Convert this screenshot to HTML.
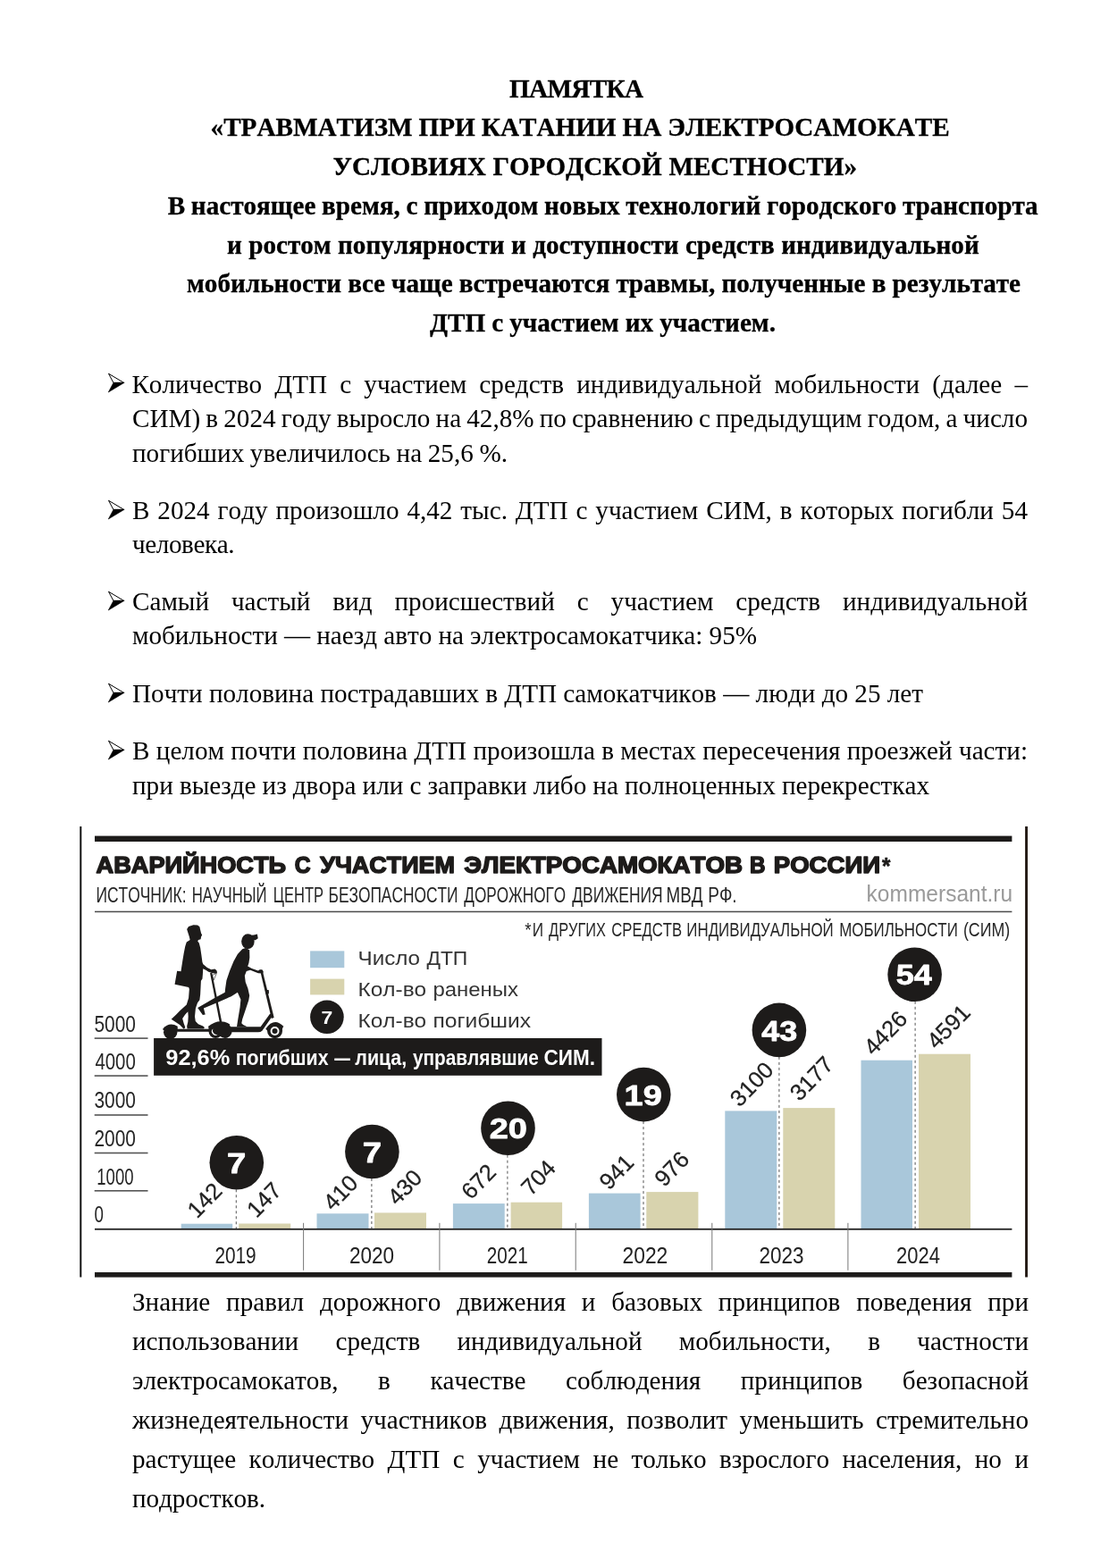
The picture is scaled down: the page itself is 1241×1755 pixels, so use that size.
<!DOCTYPE html>
<html lang="ru"><head><meta charset="utf-8"><title>Памятка</title>
<style>
html,body{margin:0;padding:0;background:#fff;}
body{width:1241px;height:1755px;position:relative;overflow:hidden;font-family:"Liberation Serif",serif;color:#000;}
.l{position:absolute;white-space:nowrap;font-size:29.17px;line-height:50px;height:50px;font-kerning:none;}
.b{font-weight:bold;-webkit-text-stroke:0.3px #000;}
.bul{position:absolute;}
#chart{position:absolute;left:0;top:0;}
#chart text{font-kerning:none;}
</style></head><body>
<div class="l b" style="left:570px;top:74.16px;letter-spacing:-0.659px;">ПАМЯТКА</div>
<div class="l b" style="left:235.6px;top:116.66px;word-spacing:-0.268px;">«ТРАВМАТИЗМ ПРИ КАТАНИИ НА ЭЛЕКТРОСАМОКАТЕ</div>
<div class="l b" style="left:372.6px;top:161.46px;word-spacing:0.403px;">УСЛОВИЯХ ГОРОДСКОЙ МЕСТНОСТИ»</div>
<div class="l b" style="left:187.7px;top:204.66px;word-spacing:-0.586px;">В настоящее время, с приходом новых технологий городского транспорта</div>
<div class="l b" style="left:254px;top:249.36px;word-spacing:0.085px;">и ростом популярности и доступности средств индивидуальной</div>
<div class="l b" style="left:209px;top:292.16px;word-spacing:-0.096px;">мобильности все чаще встречаются травмы, полученные в результате</div>
<div class="l b" style="left:481px;top:336.16px;word-spacing:-0.219px;">ДТП с участием их участием.</div>
<div class="l" style="left:147.4px;top:404.56px;word-spacing:6.862px;">Количество ДТП с участием средств индивидуальной мобильности (далее –</div>
<div class="l" style="left:148px;top:443.16px;word-spacing:-1.129px;">СИМ) в 2024 году выросло на 42,8% по сравнению с предыдущим годом, а число</div>
<div class="l" style="left:148px;top:482.16px;word-spacing:-0.648px;">погибших увеличилось на 25,6 %.</div>
<div class="l" style="left:148px;top:546.16px;word-spacing:1.629px;">В 2024 году произошло 4,42 тыс. ДТП с участием СИМ, в которых погибли 54</div>
<div class="l" style="left:148px;top:584.16px;letter-spacing:-0.418px;">человека.</div>
<div class="l" style="left:148px;top:648.16px;word-spacing:17.623px;">Самый частый вид происшествий с участием средств индивидуальной</div>
<div class="l" style="left:148px;top:686.16px;word-spacing:-0.138px;">мобильности — наезд авто на электросамокатчика: 95%</div>
<div class="l" style="left:148px;top:750.96px;word-spacing:-0.011px;">Почти половина пострадавших в ДТП самокатчиков — люди до 25 лет</div>
<div class="l" style="left:148px;top:814.96px;word-spacing:0.055px;">В целом почти половина ДТП произошла в местах пересечения проезжей части:</div>
<div class="l" style="left:148px;top:853.66px;word-spacing:-0.195px;">при выезде из двора или с заправки либо на полноценных перекрестках</div>
<div class="l" style="left:148px;top:1432.16px;word-spacing:10.498px;">Знание правил дорожного движения и базовых принципов поведения при</div>
<div class="l" style="left:148px;top:1476.16px;word-spacing:34.006px;">использовании средств индивидуальной мобильности, в частности</div>
<div class="l" style="left:148px;top:1520.16px;word-spacing:37.291px;">электросамокатов, в качестве соблюдения принципов безопасной</div>
<div class="l" style="left:148px;top:1564.16px;word-spacing:6.181px;">жизнедеятельности участников движения, позволит уменьшить стремительно</div>
<div class="l" style="left:148px;top:1608.16px;word-spacing:7.180px;">растущее количество ДТП с участием не только взрослого населения, но и</div>
<div class="l" style="left:148px;top:1652.16px;letter-spacing:-0.066px;">подростков.</div>
<svg class="bul" style="left:119px;top:416px" width="24" height="26" viewBox="0 0 24 26"><path d="M2.5 2.2 L19.8 12.5 L8 12.5 Z" fill="#fff" stroke="#000" stroke-width="1" stroke-linejoin="miter"/><path d="M8 12.2 L20.2 12.2 L2.3 23 Z" fill="#000" stroke="#000" stroke-width="0.6"/></svg>
<svg class="bul" style="left:119px;top:558px" width="24" height="26" viewBox="0 0 24 26"><path d="M2.5 2.2 L19.8 12.5 L8 12.5 Z" fill="#fff" stroke="#000" stroke-width="1" stroke-linejoin="miter"/><path d="M8 12.2 L20.2 12.2 L2.3 23 Z" fill="#000" stroke="#000" stroke-width="0.6"/></svg>
<svg class="bul" style="left:119px;top:660.2px" width="24" height="26" viewBox="0 0 24 26"><path d="M2.5 2.2 L19.8 12.5 L8 12.5 Z" fill="#fff" stroke="#000" stroke-width="1" stroke-linejoin="miter"/><path d="M8 12.2 L20.2 12.2 L2.3 23 Z" fill="#000" stroke="#000" stroke-width="0.6"/></svg>
<svg class="bul" style="left:119px;top:763px" width="24" height="26" viewBox="0 0 24 26"><path d="M2.5 2.2 L19.8 12.5 L8 12.5 Z" fill="#fff" stroke="#000" stroke-width="1" stroke-linejoin="miter"/><path d="M8 12.2 L20.2 12.2 L2.3 23 Z" fill="#000" stroke="#000" stroke-width="0.6"/></svg>
<svg class="bul" style="left:119px;top:826.8px" width="24" height="26" viewBox="0 0 24 26"><path d="M2.5 2.2 L19.8 12.5 L8 12.5 Z" fill="#fff" stroke="#000" stroke-width="1" stroke-linejoin="miter"/><path d="M8 12.2 L20.2 12.2 L2.3 23 Z" fill="#000" stroke="#000" stroke-width="0.6"/></svg>
<svg id="chart" width="1241" height="1755" viewBox="0 0 1241 1755" font-family="'Liberation Sans', sans-serif">
<rect x="89.3" y="925" width="2" height="504.5" fill="#111"/>
<rect x="1147.1" y="925" width="2.9" height="504.5" fill="#241a15"/>
<rect x="106" y="935.6" width="1026.4" height="6.4" fill="#1d1b1a"/>
<rect x="106" y="1424" width="1026.4" height="5.6" fill="#1d1b1a"/>
<rect x="106" y="1019.7" width="1026.4" height="1.5" fill="#4a4a4a"/>
<text x="107.60" y="977.30" font-size="25.8" font-weight="bold" fill="#1d1b1a" textLength="212.40" lengthAdjust="spacingAndGlyphs" stroke="#1d1b1a" stroke-width="1.5" stroke-linejoin="round">АВАРИЙНОСТЬ</text>
<text x="329.80" y="977.30" font-size="25.8" font-weight="bold" fill="#1d1b1a" textLength="17.82" lengthAdjust="spacingAndGlyphs" stroke="#1d1b1a" stroke-width="1.5" stroke-linejoin="round">С</text>
<text x="358.19" y="977.30" font-size="25.8" font-weight="bold" fill="#1d1b1a" textLength="150.80" lengthAdjust="spacingAndGlyphs" stroke="#1d1b1a" stroke-width="1.5" stroke-linejoin="round">УЧАСТИЕМ</text>
<text x="519.30" y="977.30" font-size="25.8" font-weight="bold" fill="#1d1b1a" textLength="311.80" lengthAdjust="spacingAndGlyphs" stroke="#1d1b1a" stroke-width="1.5" stroke-linejoin="round">ЭЛЕКТРОСАМОКАТОВ</text>
<text x="838.89" y="977.30" font-size="25.8" font-weight="bold" fill="#1d1b1a" textLength="17.50" lengthAdjust="spacingAndGlyphs" stroke="#1d1b1a" stroke-width="1.5" stroke-linejoin="round">В</text>
<text x="865.80" y="977.30" font-size="25.8" font-weight="bold" fill="#1d1b1a" textLength="119.24" lengthAdjust="spacingAndGlyphs" stroke="#1d1b1a" stroke-width="1.5" stroke-linejoin="round">РОССИИ</text>
<text x="987.00" y="977.60" font-size="26" font-weight="bold" fill="#1d1b1a" textLength="9.41" lengthAdjust="spacingAndGlyphs" stroke="#1d1b1a" stroke-width="0.6" stroke-linejoin="round">*</text>
<text x="107.40" y="1009.60" font-size="23.2" font-weight="normal" fill="#262626" textLength="101.09" lengthAdjust="spacingAndGlyphs">ИСТОЧНИК:</text>
<text x="214.70" y="1009.60" font-size="23.2" font-weight="normal" fill="#262626" textLength="83.87" lengthAdjust="spacingAndGlyphs">НАУЧНЫЙ</text>
<text x="305.80" y="1009.60" font-size="23.2" font-weight="normal" fill="#262626" textLength="56.25" lengthAdjust="spacingAndGlyphs">ЦЕНТР</text>
<text x="367.50" y="1009.60" font-size="23.2" font-weight="normal" fill="#262626" textLength="145.05" lengthAdjust="spacingAndGlyphs">БЕЗОПАСНОСТИ</text>
<text x="519.30" y="1009.60" font-size="23.2" font-weight="normal" fill="#262626" textLength="113.81" lengthAdjust="spacingAndGlyphs">ДОРОЖНОГО</text>
<text x="640.20" y="1009.60" font-size="23.2" font-weight="normal" fill="#262626" textLength="101.41" lengthAdjust="spacingAndGlyphs">ДВИЖЕНИЯ</text>
<text x="745.52" y="1009.60" font-size="23.2" font-weight="normal" fill="#262626" textLength="40.91" lengthAdjust="spacingAndGlyphs">МВД</text>
<text x="792.30" y="1009.60" font-size="23.2" font-weight="normal" fill="#262626" textLength="32.35" lengthAdjust="spacingAndGlyphs">РФ.</text>
<text x="969.60" y="1009.40" font-size="26.7" font-weight="normal" fill="#9a9a9a" textLength="163.49" lengthAdjust="spacingAndGlyphs">kommersant.ru</text>
<text x="587.26" y="1047.60" font-size="21.3" font-weight="normal" fill="#262626" textLength="7.31" lengthAdjust="spacingAndGlyphs">*</text>
<text x="595.73" y="1047.60" font-size="21.3" font-weight="normal" fill="#262626" textLength="12.30" lengthAdjust="spacingAndGlyphs">И</text>
<text x="614.10" y="1047.60" font-size="21.3" font-weight="normal" fill="#262626" textLength="63.80" lengthAdjust="spacingAndGlyphs">ДРУГИХ</text>
<text x="684.29" y="1047.60" font-size="21.3" font-weight="normal" fill="#262626" textLength="78.85" lengthAdjust="spacingAndGlyphs">СРЕДСТВ</text>
<text x="768.30" y="1047.60" font-size="21.3" font-weight="normal" fill="#262626" textLength="164.45" lengthAdjust="spacingAndGlyphs">ИНДИВИДУАЛЬНОЙ</text>
<text x="939.20" y="1047.60" font-size="21.3" font-weight="normal" fill="#262626" textLength="132.64" lengthAdjust="spacingAndGlyphs">МОБИЛЬНОСТИ</text>
<text x="1077.89" y="1047.60" font-size="21.3" font-weight="normal" fill="#262626" textLength="52.30" lengthAdjust="spacingAndGlyphs">(СИМ)</text>
<rect x="347.1" y="1064.4" width="38.2" height="18.8" fill="#a9c7da"/>
<rect x="347.1" y="1095.6" width="38.2" height="17.8" fill="#d8d3ae"/>
<circle cx="365.9" cy="1138.3" r="18.8" fill="#1d1b1a"/>
<text x="359.64" y="1145.60" font-size="20.5" font-weight="bold" fill="#fff" textLength="12.75" lengthAdjust="spacingAndGlyphs">7</text>
<text x="400.59" y="1079.50" font-size="22.3" font-weight="normal" fill="#333" textLength="69.36" lengthAdjust="spacingAndGlyphs">Число</text>
<text x="477.40" y="1079.50" font-size="22.3" font-weight="normal" fill="#333" textLength="45.90" lengthAdjust="spacingAndGlyphs">ДТП</text>
<text x="400.61" y="1115.00" font-size="22.3" font-weight="normal" fill="#333" textLength="76.55" lengthAdjust="spacingAndGlyphs">Кол-во</text>
<text x="484.41" y="1115.00" font-size="22.3" font-weight="normal" fill="#333" textLength="95.66" lengthAdjust="spacingAndGlyphs">раненых</text>
<text x="400.61" y="1149.70" font-size="22.3" font-weight="normal" fill="#333" textLength="76.55" lengthAdjust="spacingAndGlyphs">Кол-во</text>
<text x="484.41" y="1149.70" font-size="22.3" font-weight="normal" fill="#333" textLength="109.65" lengthAdjust="spacingAndGlyphs">погибших</text>
<text x="105.41" y="1155.20" font-size="25.6" font-weight="normal" fill="#262626" textLength="46.47" lengthAdjust="spacingAndGlyphs">5000</text>
<rect x="105.7" y="1161.3" width="59.8" height="1.6" fill="#555"/>
<text x="106.40" y="1197.00" font-size="25.6" font-weight="normal" fill="#262626" textLength="45.42" lengthAdjust="spacingAndGlyphs">4000</text>
<rect x="105.7" y="1203.3" width="59.8" height="1.6" fill="#555"/>
<text x="105.41" y="1240.20" font-size="25.6" font-weight="normal" fill="#262626" textLength="46.47" lengthAdjust="spacingAndGlyphs">3000</text>
<rect x="105.7" y="1247.2" width="59.8" height="1.6" fill="#555"/>
<text x="105.41" y="1283.00" font-size="25.6" font-weight="normal" fill="#262626" textLength="46.47" lengthAdjust="spacingAndGlyphs">2000</text>
<rect x="105.7" y="1289.7" width="59.8" height="1.6" fill="#555"/>
<text x="108.30" y="1325.80" font-size="25.6" font-weight="normal" fill="#262626" textLength="41.27" lengthAdjust="spacingAndGlyphs">1000</text>
<rect x="105.7" y="1332.0" width="59.8" height="1.6" fill="#555"/>
<text x="105.40" y="1368.40" font-size="25.6" font-weight="normal" fill="#262626" textLength="10.41" lengthAdjust="spacingAndGlyphs">0</text>
<rect x="172.1" y="1162" width="501.4" height="41.8" fill="#1d1b1a"/>
<text x="185.30" y="1191.90" font-size="23.3" font-weight="bold" fill="#fff" textLength="72.06" lengthAdjust="spacingAndGlyphs">92,6%</text>
<text x="263.70" y="1191.90" font-size="23.3" font-weight="bold" fill="#fff" textLength="103.82" lengthAdjust="spacingAndGlyphs">погибших</text>
<text x="374.30" y="1191.90" font-size="23.3" font-weight="bold" fill="#fff" textLength="17.62" lengthAdjust="spacingAndGlyphs">—</text>
<text x="397.30" y="1191.90" font-size="23.3" font-weight="bold" fill="#fff" textLength="57.84" lengthAdjust="spacingAndGlyphs">лица,</text>
<text x="461.90" y="1191.90" font-size="23.3" font-weight="bold" fill="#fff" textLength="141.01" lengthAdjust="spacingAndGlyphs">управлявшие</text>
<text x="608.60" y="1191.90" font-size="23.3" font-weight="bold" fill="#fff" textLength="57.49" lengthAdjust="spacingAndGlyphs">СИМ.</text>
<rect x="202.7" y="1369.7" width="57.5" height="6.1" fill="#a9c7da"/>
<rect x="267.2" y="1369.5" width="58.0" height="6.3" fill="#d8d3ae"/>
<line x1="264.3" y1="1331.3" x2="264.3" y2="1375.8" stroke="#555" stroke-width="1" stroke-dasharray="3 3"/>
<circle cx="264.8" cy="1301.3" r="30.3" fill="#1d1b1a"/>
<text x="254.08" y="1312.90" font-size="31.5" font-weight="bold" fill="#fff" textLength="21.26" lengthAdjust="spacingAndGlyphs" stroke="#fff" stroke-width="0.8" stroke-linejoin="round">7</text>
<rect x="354.5" y="1358.3" width="58.0" height="17.5" fill="#a9c7da"/>
<rect x="419" y="1357.4" width="58.0" height="18.4" fill="#d8d3ae"/>
<line x1="415.9" y1="1319.0" x2="415.9" y2="1375.8" stroke="#555" stroke-width="1" stroke-dasharray="3 3"/>
<circle cx="416.4" cy="1289" r="30.3" fill="#1d1b1a"/>
<text x="405.67" y="1300.60" font-size="31.5" font-weight="bold" fill="#fff" textLength="21.26" lengthAdjust="spacingAndGlyphs" stroke="#fff" stroke-width="0.8" stroke-linejoin="round">7</text>
<rect x="506.9" y="1347.1" width="57.8" height="28.7" fill="#a9c7da"/>
<rect x="571.6" y="1345.7" width="57.5" height="30.1" fill="#d8d3ae"/>
<line x1="567.9" y1="1292.7" x2="567.9" y2="1375.8" stroke="#555" stroke-width="1" stroke-dasharray="3 3"/>
<circle cx="568.5" cy="1262.7" r="30.3" fill="#1d1b1a"/>
<text x="547.74" y="1274.30" font-size="31.5" font-weight="bold" fill="#fff" textLength="42.18" lengthAdjust="spacingAndGlyphs" stroke="#fff" stroke-width="0.8" stroke-linejoin="round">20</text>
<rect x="658.9" y="1335.6" width="57.7" height="40.2" fill="#a9c7da"/>
<rect x="723.3" y="1334.1" width="58.1" height="41.7" fill="#d8d3ae"/>
<line x1="720" y1="1255.1" x2="720" y2="1375.8" stroke="#555" stroke-width="1" stroke-dasharray="3 3"/>
<circle cx="720.3" cy="1225.1" r="30.3" fill="#1d1b1a"/>
<text x="698.57" y="1236.70" font-size="31.5" font-weight="bold" fill="#fff" textLength="42.18" lengthAdjust="spacingAndGlyphs" stroke="#fff" stroke-width="0.8" stroke-linejoin="round">19</text>
<rect x="811.3" y="1243.4" width="58.0" height="132.4" fill="#a9c7da"/>
<rect x="876.3" y="1240.1" width="58.0" height="135.7" fill="#d8d3ae"/>
<line x1="871.9" y1="1182.9" x2="871.9" y2="1375.8" stroke="#555" stroke-width="1" stroke-dasharray="3 3"/>
<circle cx="871.9" cy="1152.9" r="30.3" fill="#1d1b1a"/>
<text x="852.15" y="1164.50" font-size="31.5" font-weight="bold" fill="#fff" textLength="40.01" lengthAdjust="spacingAndGlyphs" stroke="#fff" stroke-width="0.8" stroke-linejoin="round">43</text>
<rect x="963.5" y="1186.7" width="57.5" height="189.1" fill="#a9c7da"/>
<rect x="1028" y="1179.7" width="58.0" height="196.1" fill="#d8d3ae"/>
<line x1="1024.1" y1="1120.8" x2="1024.1" y2="1375.8" stroke="#555" stroke-width="1" stroke-dasharray="3 3"/>
<circle cx="1023.6" cy="1090.8" r="30.3" fill="#1d1b1a"/>
<text x="1002.86" y="1102.40" font-size="31.5" font-weight="bold" fill="#fff" textLength="40.01" lengthAdjust="spacingAndGlyphs" stroke="#fff" stroke-width="0.8" stroke-linejoin="round">54</text>
<text transform="translate(220.5,1364.8) rotate(-46)" font-size="25.5" fill="#222" stroke="#222" stroke-width="0.25">142</text>
<text transform="translate(287.0,1364.3) rotate(-46)" font-size="25.5" fill="#222" stroke="#222" stroke-width="0.25">147</text>
<text transform="translate(372.6,1356.2) rotate(-46)" font-size="25.5" fill="#222" stroke="#222" stroke-width="0.25">410</text>
<text transform="translate(444.4,1350.2) rotate(-46)" font-size="25.5" fill="#222" stroke="#222" stroke-width="0.25">430</text>
<text transform="translate(527.1,1343.8) rotate(-46)" font-size="25.5" fill="#222" stroke="#222" stroke-width="0.25">672</text>
<text transform="translate(593.9,1339.5) rotate(-46)" font-size="25.5" fill="#222" stroke="#222" stroke-width="0.25">704</text>
<text transform="translate(681.4,1333.1) rotate(-46)" font-size="25.5" fill="#222" stroke="#222" stroke-width="0.25">941</text>
<text transform="translate(743.2,1329.6) rotate(-46)" font-size="25.5" fill="#222" stroke="#222" stroke-width="0.25">976</text>
<text transform="translate(827.8,1239.9) rotate(-46)" font-size="25.5" fill="#222" stroke="#222" stroke-width="0.25">3100</text>
<text transform="translate(894.7,1233.6) rotate(-46)" font-size="25.5" fill="#222" stroke="#222" stroke-width="0.25">3177</text>
<text transform="translate(977.5,1182.6) rotate(-46)" font-size="25.5" fill="#222" stroke="#222" stroke-width="0.25">4426</text>
<text transform="translate(1048.0,1175.5) rotate(-46)" font-size="25.5" fill="#222" stroke="#222" stroke-width="0.25">4591</text>
<rect x="106" y="1374.9" width="1026.4" height="1.8" fill="#222"/>
<rect x="339.1" y="1368.8" width="1" height="53" fill="#777"/>
<rect x="491.4" y="1368.8" width="1" height="53" fill="#777"/>
<rect x="643.7" y="1368.8" width="1" height="53" fill="#777"/>
<rect x="796.3" y="1368.8" width="1" height="53" fill="#777"/>
<rect x="948.4" y="1368.8" width="1" height="53" fill="#777"/>
<text x="240.38" y="1414.20" font-size="26.5" font-weight="normal" fill="#222" textLength="46.32" lengthAdjust="spacingAndGlyphs">2019</text>
<text x="390.91" y="1414.20" font-size="26.5" font-weight="normal" fill="#222" textLength="50.10" lengthAdjust="spacingAndGlyphs">2020</text>
<text x="544.80" y="1414.20" font-size="26.5" font-weight="normal" fill="#222" textLength="45.90" lengthAdjust="spacingAndGlyphs">2021</text>
<text x="696.59" y="1414.20" font-size="26.5" font-weight="normal" fill="#222" textLength="50.72" lengthAdjust="spacingAndGlyphs">2022</text>
<text x="849.51" y="1414.20" font-size="26.5" font-weight="normal" fill="#222" textLength="50.10" lengthAdjust="spacingAndGlyphs">2023</text>
<text x="1003.00" y="1414.20" font-size="26.5" font-weight="normal" fill="#222" textLength="48.84" lengthAdjust="spacingAndGlyphs">2024</text>
<g fill="#1d1b1a" stroke="none"><g transform="translate(178,1030) scale(0.07692)">
<!-- person 1 -->
<path d="M430 90 L500 68 L560 70 L590 95 L600 140 L612 190 L626 215 L612 240 L606 275 L572 286 L562 306 L582 332 L600 400 L615 500 L630 610 L642 640 L700 688 L760 718 L810 710 L836 728 L846 760 L822 776 L770 766 L720 752 L680 724 L640 704 L636 780 L630 850 L610 880 L606 960 L600 1080 L590 1160 L560 1200 L532 1280 L520 1400 L530 1470 L570 1510 L640 1540 L662 1560 L650 1580 L410 1580 L405 1540 L420 1480 L425 1400 L420 1330 L380 1370 L340 1430 L360 1500 L382 1560 L360 1582 L300 1522 L178 1440 L250 1370 L300 1320 L400 1230 L430 1130 L440 1000 L430 975 L228 932 L262 738 L318 744 L340 600 L360 480 L380 380 L400 320 L450 285 L440 240 L420 180 L405 130 Z"/>
<!-- scooter 1 -->
<circle cx="165" cy="1628" r="100"/>
<path d="M55 1580 Q150 1470 270 1545 L270 1600 L60 1600 Z"/>
<rect x="250" y="1582" width="500" height="40"/>
<path d="M742 770 L770 762 L915 1490 L885 1500 Z"/>
<path d="M775 800 L838 770 L795 870 Z" fill="none" stroke="#1d1b1a" stroke-width="8"/>
</g>
<g transform="translate(218,1030) scale(0.08865)">
<!-- wheels middle -->
<circle cx="262" cy="1400" r="88"/>
<circle cx="380" cy="1398" r="90"/>
<path d="M170 1340 Q300 1230 440 1310 L440 1400 L180 1400 Z"/>
<path d="M230 1370 A40 40 0 1 0 290 1440 A50 50 0 0 1 230 1370 Z" fill="#fff"/>
<!-- person 2 -->
<ellipse cx="670" cy="268" rx="82" ry="95"/>
<path d="M700 190 L745 185 L788 176 L798 228 L765 252 L720 250 Z"/>
<path d="M600 365 L640 350 L690 375 L692 470 L682 540 L668 580 L720 608 L800 638 L820 624 L850 624 L866 650 L860 672 L800 668 L700 630 L652 642 L630 700 L640 780 L670 860 L690 950 L680 1010 L640 1130 L600 1250 L590 1300 L610 1320 L662 1345 L530 1345 L545 1250 L570 1100 L580 1000 L540 910 L460 962 L300 1032 L112 1110 L132 1190 L100 1196 L36 1106 L80 1080 L250 980 L380 910 L385 860 L400 760 L440 640 L490 520 L540 430 Z"/>
<!-- scooter 2 -->
<path d="M440 1345 L830 1345 L950 1180 L985 1200 L850 1395 Q830 1412 800 1412 L440 1412 Z"/>
<path d="M832 668 L860 660 L1000 1230 L968 1240 Z"/>
<rect x="895" y="880" width="40" height="50" rx="8"/>
<circle cx="1010" cy="1395" r="96"/>
<path d="M895 1370 Q1000 1220 1120 1340 L1100 1380 L910 1390 Z"/>
<circle cx="1010" cy="1398" r="56" fill="#fff"/>
<circle cx="1010" cy="1398" r="34"/>
</g>
</g>
</svg>
</body></html>
